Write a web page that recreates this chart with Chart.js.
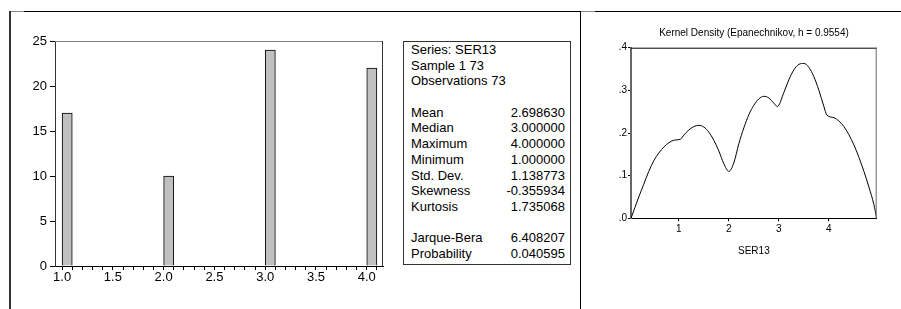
<!DOCTYPE html>
<html>
<head>
<meta charset="utf-8">
<script src="https://cdn.jsdelivr.net/npm/chart.js@4.4.1/dist/chart.umd.min.js"></script>
<style>
  body { margin: 0; background: #fff; font-family: "Liberation Sans", Arial, sans-serif; }
  #wrap { position: relative; width: 901px; height: 309px; overflow: hidden; background: #fff; }
  .rule { position: absolute; background: #000; }
  #hist { position: absolute; left: 0; top: 0; }
  #kde { position: absolute; left: 581px; top: 0; }
  #stats { position: absolute; left: 403px; top: 41px; width: 168px; height: 224px; box-sizing: border-box;
           border: 1px solid #333; padding: 0 5px 0 7px; font-size: 13px; color: #000; }
  #stats div { height: 15.7px; line-height: 15.7px; display: flex; justify-content: space-between; white-space: nowrap; }
  #kdeTitle { position: absolute; left: 631px; width: 246px; top: 27px; line-height: 12px; font-size: 10px;
              text-align: center; color: #000; white-space: nowrap; }
</style>
</head>
<body>
<div id="wrap">
  <div class="rule" style="left:10px; top:11px; width:891px; height:1px;"></div>
  <div class="rule" style="left:10px; top:11px; width:14px; height:1px; background:#888;"></div>
  <div class="rule" style="left:581px; top:11px; width:14px; height:1px; background:#888;"></div>
  <div class="rule" style="left:9px; top:11px; width:2px; height:298px; background:#333;"></div>
  <div class="rule" style="left:580px; top:11px; width:1px; height:298px;"></div>
  <canvas id="hist" width="400" height="309"></canvas>
  <div id="stats"></div>
  <canvas id="kde" width="320" height="309"></canvas>
  <div id="kdeTitle"></div>
</div>
<script>
// histogram of SER13
const histBins = [1.0, 2.0, 3.0, 4.0];
const histCounts = [17, 10, 24, 22];
const binWidth = 0.1;
const histXLabels = ['1.0', '1.5', '2.0', '2.5', '3.0', '3.5', '4.0'];

// descriptive statistics
const statHeader = ['Series: SER13', 'Sample 1 73', 'Observations 73'];
const statNames = ['Mean', 'Median', 'Maximum', 'Minimum', 'Std. Dev.', 'Skewness', 'Kurtosis'];
const statValues = ['2.698630', '3.000000', '4.000000', '1.000000', '1.138773', '-0.355934', '1.735068'];
const testNames = ['Jarque-Bera', 'Probability'];
const testValues = ['6.408207', '0.040595'];

// kernel density
const kdeTitle = 'Kernel Density (Epanechnikov, h = 0.9554)';
const kdeX = [0.045, 0.2, 0.3, 0.4, 0.5, 0.6, 0.7, 0.8, 0.9, 1.04, 1.1, 1.2, 1.3, 1.4, 1.5, 1.6, 1.7, 1.8, 1.9, 2.0,
              2.1, 2.2, 2.3, 2.4, 2.5, 2.6, 2.7, 2.8, 2.9, 2.97, 3.1, 3.2, 3.3, 3.4, 3.5, 3.6, 3.7, 3.8, 3.9, 3.96,
              4.1, 4.2, 4.3, 4.4, 4.5, 4.6, 4.7, 4.8, 4.9, 4.955];
const kdeY = [0, 0.05, 0.08, 0.11, 0.135, 0.153, 0.167, 0.177, 0.183, 0.186, 0.195, 0.207, 0.215, 0.218, 0.214, 0.202, 0.183, 0.158, 0.128, 0.11,
              0.13, 0.175, 0.212, 0.243, 0.265, 0.28, 0.286, 0.282, 0.27, 0.262, 0.295, 0.325, 0.348, 0.361, 0.363, 0.354, 0.332, 0.3, 0.262, 0.242,
              0.236, 0.228, 0.215, 0.196, 0.172, 0.143, 0.11, 0.073, 0.032, 0];
const kdeXTicks = [1, 2, 3, 4];
const kdeYTicks = [0, 0.1, 0.2, 0.3, 0.4];

Chart.defaults.font.family = '"Liberation Sans", Arial, sans-serif';
Chart.defaults.color = '#000';

// stats box
const box = document.getElementById('stats');
function addRow(left, right) {
  const row = document.createElement('div');
  const a = document.createElement('span'); a.textContent = left;
  const b = document.createElement('span'); b.textContent = right;
  row.appendChild(a); row.appendChild(b);
  box.appendChild(row);
}
statHeader.forEach(t => addRow(t, ''));
addRow('', '');
statNames.forEach((n, i) => addRow(n, statValues[i]));
addRow('', '');
testNames.forEach((n, i) => addRow(n, testValues[i]));

document.getElementById('kdeTitle').textContent = kdeTitle;

// top and right edges of the plot box
const frame = {
  id: 'frame',
  afterDraw(chart, args, opts) {
    const { ctx, chartArea: a } = chart;
    ctx.save();
    ctx.lineWidth = 1;
    ctx.strokeStyle = opts.top;
    ctx.beginPath(); ctx.moveTo(a.left, a.top + 0.5); ctx.lineTo(a.right, a.top + 0.5); ctx.stroke();
    ctx.strokeStyle = opts.right;
    ctx.beginPath(); ctx.moveTo(a.right - 0.5, a.top); ctx.lineTo(a.right - 0.5, a.bottom); ctx.stroke();
    ctx.restore();
  }
};

// bar width follows the 0.1 tick spacing, i.e. one bin
new Chart(document.getElementById('hist'), {
  type: 'bar',
  data: {
    datasets: [{
      data: histBins.map((b, i) => ({ x: b + binWidth / 2, y: histCounts[i] })),
      backgroundColor: '#c0c0c0',
      borderColor: '#000',
      borderWidth: 1,
      barPercentage: 1,
      categoryPercentage: 1
    }]
  },
  options: {
    responsive: false,
    animation: false,
    layout: { padding: { left: 0, top: 41, right: 17, bottom: 0 } },
    plugins: { legend: { display: false }, tooltip: { enabled: false }, frame: { top: '#808080', right: '#333' } },
    scales: {
      x: {
        type: 'linear', min: 0.93, max: 4.16, offset: false,
        grid: { offset: false, drawOnChartArea: false, tickLength: 4, tickColor: '#000' },
        border: { color: '#000' },
        afterBuildTicks: s => {
          const t = [];
          for (let k = 10; k <= 41; k++) t.push({ value: k / 10 });
          s.ticks = t;
        },
        ticks: {
          autoSkip: false, maxRotation: 0, padding: 0, font: { size: 13 },
          callback: v => { const l = v.toFixed(1); return histXLabels.includes(l) ? l : ''; }
        },
        afterFit: s => { s.height = 43; }
      },
      y: {
        min: 0, max: 25,
        grid: { drawOnChartArea: false, tickLength: 5, tickColor: '#000' },
        border: { color: '#333' },
        ticks: { stepSize: 5, padding: 3, font: { size: 13 } },
        afterFit: s => { s.width = 55; }
      }
    }
  },
  plugins: [frame]
});

new Chart(document.getElementById('kde'), {
  type: 'line',
  data: {
    datasets: [{
      data: kdeX.map((x, i) => ({ x: x, y: kdeY[i] })),
      borderColor: '#000',
      borderWidth: 1,
      pointRadius: 0,
      cubicInterpolationMode: 'monotone',
      fill: false
    }]
  },
  options: {
    responsive: false,
    animation: false,
    layout: { padding: { left: 0, top: 47.7, right: 24.3, bottom: 0 } },
    plugins: { legend: { display: false }, tooltip: { enabled: false }, frame: { top: '#000', right: '#666' } },
    scales: {
      x: {
        type: 'linear', min: 0.0446, max: 4.9554,
        grid: { drawOnChartArea: false, tickLength: 3, tickColor: '#000' },
        border: { color: '#000' },
        afterBuildTicks: s => { s.ticks = kdeXTicks.map(v => ({ value: v })); },
        ticks: { autoSkip: false, maxRotation: 0, padding: 2, font: { size: 10 } },
        title: { display: true, text: 'SER13', font: { size: 10 }, padding: { top: 0, bottom: 51.3 } },
        afterFit: s => { s.height = 90.7; }
      },
      y: {
        min: 0, max: 0.4,
        grid: { drawOnChartArea: false, tickLength: 3, tickColor: '#000' },
        border: { color: '#666', width: 2 },
        afterBuildTicks: s => { s.ticks = kdeYTicks.map(v => ({ value: v })); },
        ticks: { padding: 1, font: { size: 10 }, callback: v => v.toFixed(1).replace(/^0/, '') },
        afterFit: s => { s.width = 50; }
      }
    }
  },
  plugins: [frame]
});
</script>
</body>
</html>
